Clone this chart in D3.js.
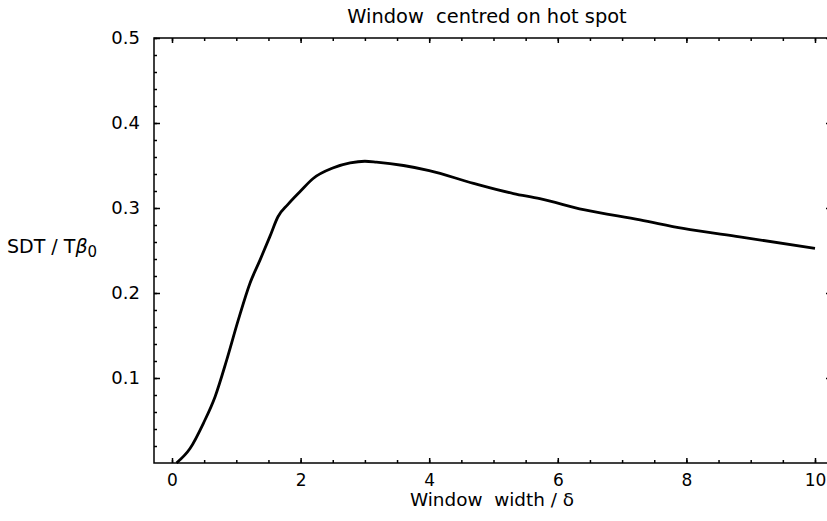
<!DOCTYPE html>
<html><head><meta charset="utf-8">
<script src="https://cdn.jsdelivr.net/npm/d3@7"></script>
<style>
html,body{margin:0;padding:0;background:#fff;}
text{font-family:"DejaVu Sans",sans-serif;fill:#000;}
</style></head>
<body><svg id="c" width="827" height="521"></svg>
<script>
const widths = [0.07, 0.28, 0.49, 0.67, 0.85, 1.03, 1.21, 1.37, 1.52, 1.65, 1.8, 2.0, 2.2, 2.5, 2.77, 3.0, 3.18, 3.6, 4.0, 4.69, 5.31, 5.72, 6.4, 7.28, 7.95, 8.83, 10];
const sdt    = [0.0, 0.017, 0.047, 0.078, 0.121, 0.168, 0.211, 0.239, 0.266, 0.290, 0.304, 0.320, 0.335, 0.347, 0.353, 0.355, 0.354, 0.350, 0.344, 0.329, 0.317, 0.311, 0.298, 0.286, 0.276, 0.266, 0.2526];
const xTicks = [0, 2, 4, 6, 8, 10];
const yTicks = [0.1, 0.2, 0.3, 0.4, 0.5];
const title = "Window  centred on hot spot";
const xLabel = "Window  width / δ";

(function(){
const svg = d3.select("#c");
const L = 154, R = 831, T = 38, B = 463;
const x = d3.scaleLinear().domain([-0.28, 10.249]).range([L, R]);
const y = d3.scaleLinear().domain([0, 0.5]).range([B, T]);

const xMinor = d3.range(0, 10.01, 0.5);
const yMinor = d3.range(0.02, 0.501, 0.02);

svg.append("g").attr("transform", `translate(0,${B})`)
  .call(d3.axisBottom(x).tickValues(xMinor).tickSize(-3).tickFormat(""));
const bx = svg.append("g").attr("transform", `translate(0,${B})`)
  .call(d3.axisBottom(x).tickValues(xTicks).tickSize(-5).tickPadding(11).tickFormat(d3.format("d")));
svg.append("g").attr("transform", `translate(0,${T})`)
  .call(d3.axisTop(x).tickValues(xMinor).tickSize(-3).tickFormat(""));
svg.append("g").attr("transform", `translate(0,${T})`)
  .call(d3.axisTop(x).tickValues(xTicks).tickSize(-5).tickFormat(""));
svg.append("g").attr("transform", `translate(${L},0)`)
  .call(d3.axisLeft(y).tickValues(yMinor).tickSize(-3).tickFormat(""));
const ly = svg.append("g").attr("transform", `translate(${L},0)`)
  .call(d3.axisLeft(y).tickValues(yTicks).tickSize(-6).tickPadding(14).tickFormat(d3.format(".1f")));
svg.append("g").attr("transform", `translate(${R},0)`)
  .call(d3.axisRight(y).tickValues(yMinor).tickSize(-3).tickFormat(""));
svg.append("g").attr("transform", `translate(${R},0)`)
  .call(d3.axisRight(y).tickValues(yTicks).tickSize(-5).tickFormat(""));

svg.selectAll(".domain").remove();
svg.selectAll(".tick line").attr("stroke", "#000").attr("stroke-width", 1.5);
svg.selectAll(".tick text").style("font-family", '"DejaVu Sans",sans-serif').attr("fill", "#000");
ly.selectAll(".tick text").style("font-size", "18px");
bx.selectAll(".tick text").style("font-size", "17px").attr("y", 10.5);

svg.append("rect").attr("x", L).attr("y", T).attr("width", R - L).attr("height", B - T)
  .attr("fill", "none").attr("stroke", "#000").attr("stroke-width", 1.5);

const line = d3.line().x((d, i) => x(widths[i])).y(d => y(d)).curve(d3.curveMonotoneX);
svg.append("path").datum(sdt).attr("d", line).attr("fill", "none")
  .attr("stroke", "#000").attr("stroke-width", 2.8).attr("stroke-linejoin", "round");

svg.append("text").attr("x", 487).attr("y", 23).attr("text-anchor", "middle")
  .style("font-size", "19.4px").style("white-space", "pre").text(title);
svg.append("text").attr("x", 492).attr("y", 506).attr("text-anchor", "middle")
  .style("font-size", "18.4px").style("white-space", "pre").text(xLabel);
const yl = svg.append("text").attr("x", 7).attr("y", 253).style("font-size", "19px");
yl.append("tspan").text("SDT / T");
yl.append("tspan").style("font-style", "italic").text("β");
yl.append("tspan").attr("dy", 4).style("font-size", "15px").text("0");
})();
</script></body></html>
